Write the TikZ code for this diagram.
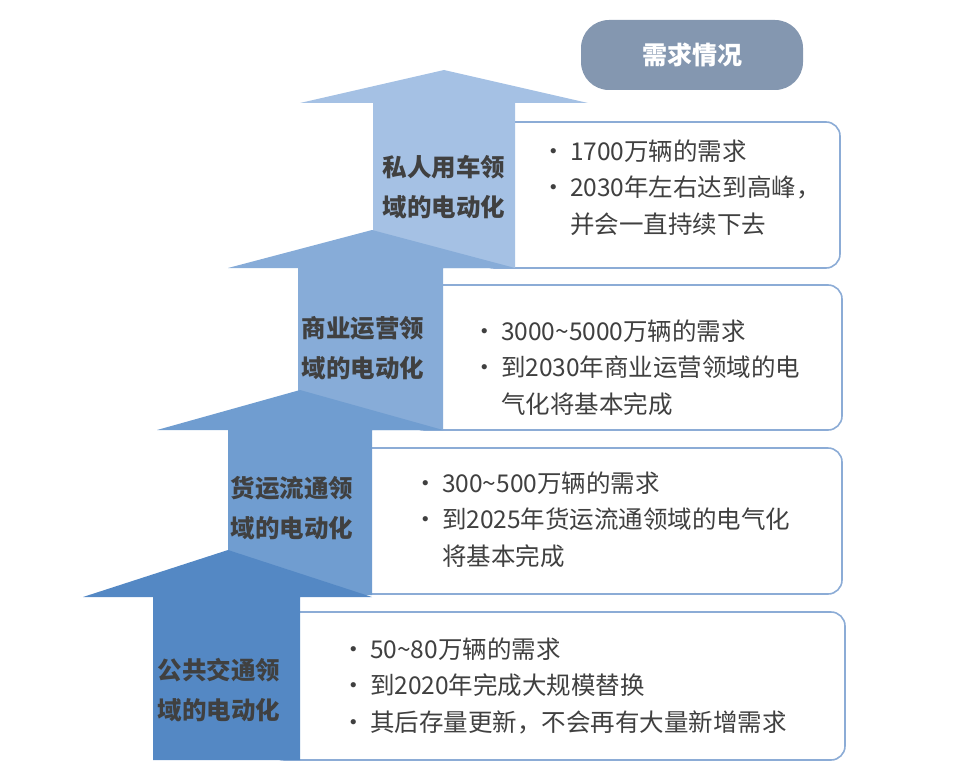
\documentclass[tikz,border=0pt]{standalone}
\usepackage{fontspec}
\setmainfont{Noto Sans CJK SC}
\begin{document}
\begin{tikzpicture}[x=1pt,y=-1pt,
  infobox/.style={draw={rgb,255:red,140;green,172;blue,214}, line width=1.6pt, fill=white, rounded corners=14pt},
  lbl/.style={font=\fontsize{24.5}{40}\selectfont\bfseries, text=black!75, align=left, anchor=center},
  itm/.style={font=\fontsize{24.5}{36.5}\selectfont, text=black!75, align=left, anchor=north west}]
\useasboundingbox (0,0) rectangle (960,765);
\definecolor{a1}{RGB}{84,136,196}
\definecolor{a2}{RGB}{112,157,208}
\definecolor{a3}{RGB}{135,172,216}
\definecolor{a4}{RGB}{165,193,228}
\draw[infobox] (480,122) rectangle (840,268);
\draw[infobox] (410,285) rectangle (842,430);
\draw[infobox] (340,448) rectangle (842,594);
\draw[infobox] (270,612) rectangle (845,760);
\fill[a4] (373,268) -- (373,103) -- (300,103) -- (444,70) -- (588,103) -- (515,103) -- (515,268) -- cycle;
\fill[a3] (298,430) -- (298,268) -- (228,268) -- (372,230) -- (515,268) -- (443,268) -- (443,430) -- cycle;
\fill[a2] (228,595) -- (228,430) -- (157,430) -- (300,390) -- (443,430) -- (372,430) -- (372,595) -- cycle;
\fill[a1] (153,760) -- (153,597) -- (83,597) -- (228,550) -- (372,597) -- (300,597) -- (300,760) -- cycle;
\node[fill={rgb,255:red,132;green,151;blue,176}, rounded corners=28pt, minimum width=222pt, minimum height=70pt, text=white, font=\fontsize{25}{28}\selectfont\bfseries] (title) at (692,55) {需求情况};
\node[lbl] (l4) at (444,187) {私人用车领\\域的电动化};
\node[lbl] (l3) at (363,348) {商业运营领\\域的电动化};
\node[lbl] (l2) at (292,508) {货运流通领\\域的电动化};
\node[lbl] (l1) at (219,690) {公共交通领\\域的电动化};
\node[itm] (t4) at (538,136) {•\,1700万辆的需求\\•\,2030年左右达到高峰，\\\phantom{•\,}并会一直持续下去};
\node[itm] (t3) at (469,316) {•\,3000\textasciitilde5000万辆的需求\\•\,到2030年商业运营领域的电\\\phantom{•\,}气化将基本完成};
\node[itm] (t2) at (410,468) {•\,300\textasciitilde500万辆的需求\\•\,到2025年货运流通领域的电气化\\\phantom{•\,}将基本完成};
\node[itm] (t1) at (338,634) {•\,50\textasciitilde80万辆的需求\\•\,到2020年完成大规模替换\\•\,其后存量更新，不会再有大量新增需求};
\end{tikzpicture}
\end{document}
